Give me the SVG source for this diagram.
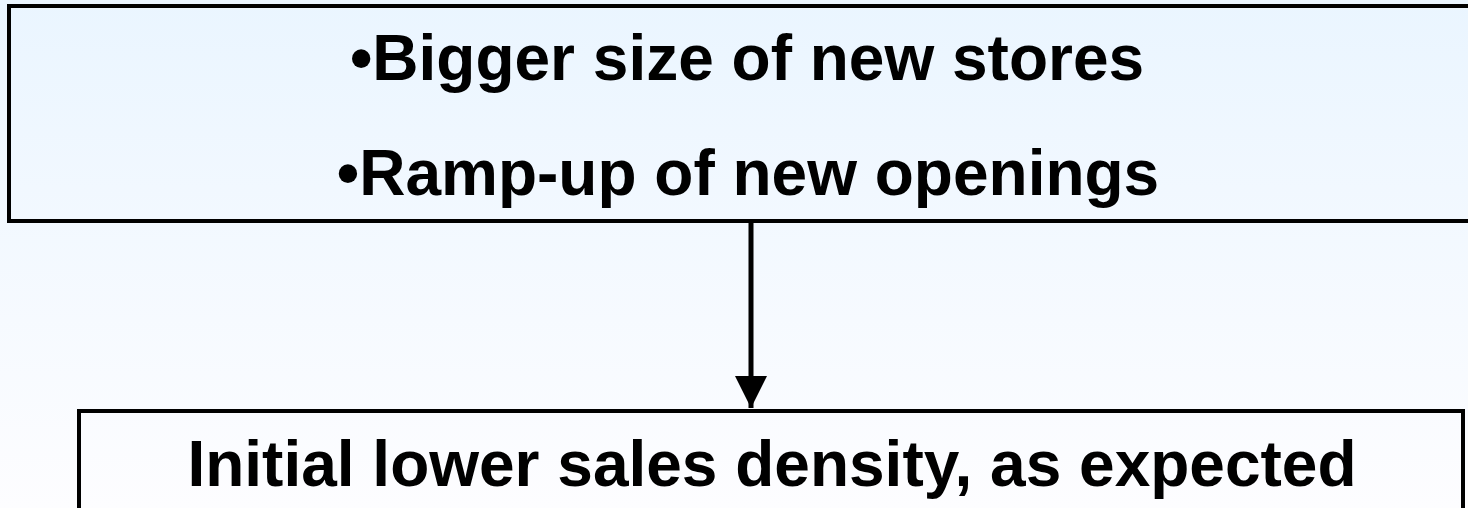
<svg xmlns="http://www.w3.org/2000/svg" width="1468" height="508" viewBox="0 0 1468 508">
<defs>
<linearGradient id="bg" x1="0" y1="0" x2="0" y2="1">
<stop offset="0" stop-color="#eaf5ff"/>
<stop offset="1" stop-color="#fdfdff"/>
</linearGradient>
<marker id="arrow" markerUnits="userSpaceOnUse" markerWidth="34" markerHeight="32" refX="32" refY="16" orient="auto">
<path d="M0,0 L32,16 L0,32 Z" fill="#000"/>
</marker>
<style>
.box{fill:none;stroke:#000;stroke-width:4}
.t{font-family:"Liberation Sans",Arial,sans-serif;font-weight:bold;font-size:64px;fill:#000;text-anchor:middle}
.conn{stroke:#000;stroke-width:5;fill:none}
</style>
</defs>
<rect x="0" y="0" width="1468" height="508" fill="url(#bg)"/>
<g id="top-node">
<rect class="box" x="9" y="6" width="1480" height="215"/>
<text class="t" x="747" y="80">•Bigger size of new stores</text>
<text class="t" x="748" y="195">•Ramp-up of new openings</text>
</g>
<g id="bottom-node">
<rect class="box" x="79" y="411" width="1384" height="120"/>
<text class="t" x="772" y="486">Initial lower sales density, as expected</text>
</g>
<g id="connectors">
<line class="conn" x1="751" y1="223" x2="751" y2="408" marker-end="url(#arrow)"/>
</g>
</svg>
